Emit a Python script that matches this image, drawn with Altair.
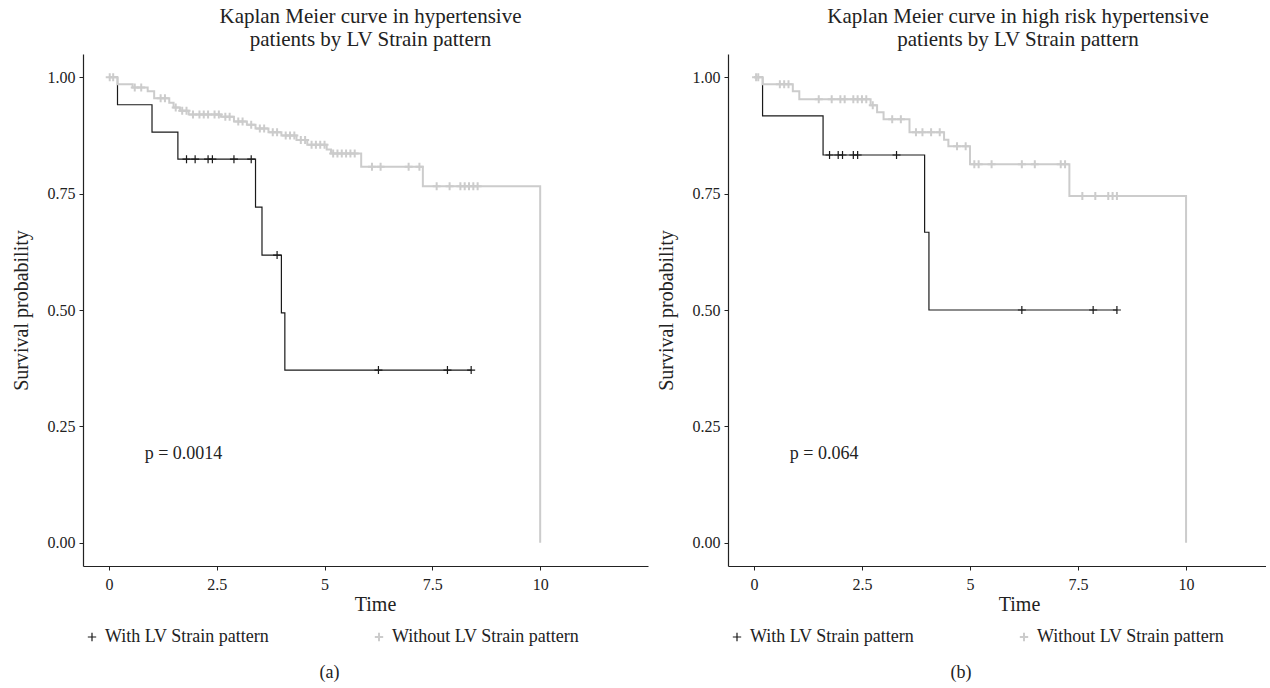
import altair as alt
import pandas as pd

GROUPS = ["With LV Strain pattern", "Without LV Strain pattern"]
COLORS = ["#1a1a1a", "#cccccc"]

# ---- Panel (a): all hypertensive patients ----
a_with_time = [0, 0.2, 1.0, 1.6, 3.4, 3.55, 4.0, 4.08, 8.4]
a_with_surv = [1.0, 0.941, 0.882, 0.824, 0.721, 0.618, 0.494, 0.371, 0.371]
a_with_cens = [1.8, 2.0, 2.3, 2.4, 2.9, 3.3, 3.9, 6.25, 7.85, 8.4]

a_wo_time = [0, 0.2, 0.55, 0.9, 1.05, 1.4, 1.5, 1.65, 1.85, 2.6, 2.9, 3.2, 3.4, 3.7,
             4.0, 4.35, 4.6, 5.05, 5.15, 5.85, 7.28, 10.0]
a_wo_surv = [1.0, 0.985, 0.978, 0.97, 0.955, 0.945, 0.935, 0.928, 0.92, 0.915, 0.905,
             0.898, 0.89, 0.882, 0.875, 0.865, 0.855, 0.845, 0.836, 0.808, 0.766, 0.0]
a_wo_cens = [0.02, 0.1, 0.6, 0.75, 1.2, 1.3, 1.55, 1.7, 1.8, 1.95, 2.1, 2.2, 2.3, 2.45,
             2.55, 2.7, 2.8, 3.0, 3.1, 3.3, 3.5, 3.6, 3.8, 3.9, 4.1, 4.2, 4.3, 4.45,
             4.55, 4.7, 4.8, 4.9, 5.0, 5.2, 5.3, 5.4, 5.5, 5.6, 5.7, 6.1, 6.3, 6.95,
             7.2, 7.6, 7.9, 8.15, 8.25, 8.35, 8.45, 8.55]

# ---- Panel (b): high risk hypertensive patients ----
b_with_time = [0, 0.2, 1.6, 3.95, 4.05, 8.4]
b_with_surv = [1.0, 0.917, 0.833, 0.667, 0.5, 0.5]
b_with_cens = [1.75, 1.95, 2.05, 2.3, 2.4, 3.3, 6.2, 7.85, 8.4]

b_wo_time = [0, 0.2, 0.9, 1.05, 2.7, 2.85, 3.0, 3.6, 4.4, 4.5, 5.0, 7.3, 10.0]
b_wo_surv = [1.0, 0.985, 0.97, 0.953, 0.94, 0.925, 0.91, 0.882, 0.866, 0.852, 0.813,
             0.745, 0.0]
b_wo_cens = [0.05, 0.1, 0.6, 0.7, 0.8, 1.5, 1.8, 2.0, 2.1, 2.3, 2.4, 2.5, 2.6, 2.75,
             3.2, 3.4, 3.75, 3.9, 4.1, 4.3, 4.7, 4.9, 5.1, 5.2, 5.5, 6.2, 6.5, 7.1,
             7.2, 7.6, 7.9, 8.2, 8.3, 8.4]

TITLES = [
    ["Kaplan Meier curve in hypertensive", "patients by LV Strain pattern"],
    ["Kaplan Meier curve in high risk hypertensive", "patients by LV Strain pattern"],
]
P_VALUES = ["p = 0.0014", "p = 0.064"]
CAPTIONS = ["(a)", "(b)"]
X_MAX = [12.5, 11.85]
WIDTHS = [565, 538]
TITLE_DX = [5, 21]
TIME_X = [292, 291]

FONT = "Liberation Serif"
CROSS = "M-1,0L1,0M0,-1L0,1"


def step_value(times, survs, t):
    v = survs[0]
    for tt, s in zip(times, survs):
        if tt <= t:
            v = s
    return v


def curve_frames(with_t, with_s, with_c, wo_t, wo_s, wo_c):
    lines = pd.DataFrame({
        "time": with_t + wo_t,
        "surv": with_s + wo_s,
        "group": [GROUPS[0]] * len(with_t) + [GROUPS[1]] * len(wo_t),
    })
    cens = pd.DataFrame({
        "time": with_c + wo_c,
        "surv": [step_value(with_t, with_s, t) for t in with_c]
        + [step_value(wo_t, wo_s, t) for t in wo_c],
        "group": [GROUPS[0]] * len(with_c) + [GROUPS[1]] * len(wo_c),
    })
    return lines, cens


def panel(lines, cens, i):
    xs = alt.Scale(domain=[-0.6, X_MAX[i]], nice=False, zero=False)
    ys = alt.Scale(domain=[-0.05, 1.05], nice=False, zero=False)
    color = alt.Color(
        "group:N",
        scale=alt.Scale(domain=GROUPS, range=COLORS),
        legend=alt.Legend(
            title=None, orient="bottom", direction="horizontal",
            symbolType=CROSS, symbolSize=70, symbolStrokeWidth=1.5,
            labelFont=FONT, labelFontSize=18, labelColor="#222222", labelLimit=0,
            columnPadding=100, symbolOffset=0, offset=14,
        ),
    )
    xaxis = alt.Axis(values=[0, 2.5, 5, 7.5, 10], title="Time", grid=False,
                     titleX=TIME_X[i], titleAlign="center", labelPadding=6,
                     labelExpr="datum.value == 2.5 || datum.value == 7.5 ? format(datum.value, '.1f') : format(datum.value, 'd')")
    yaxis = alt.Axis(values=[0, 0.25, 0.5, 0.75, 1.0], format=".2f",
                     title="Survival probability", grid=False)
    sw = alt.StrokeWidth("group:N", scale=alt.Scale(domain=GROUPS, range=[1.2, 2.0]), legend=None)
    line = alt.Chart(lines).mark_line(interpolate="step-after").encode(
        x=alt.X("time:Q", scale=xs, axis=xaxis),
        y=alt.Y("surv:Q", scale=ys, axis=yaxis),
        color=color,
        strokeWidth=sw,
        detail="group:N",
    )
    pts = alt.Chart(cens).mark_point(shape=CROSS, filled=False, size=64, opacity=1).encode(
        x=alt.X("time:Q", scale=xs),
        y=alt.Y("surv:Q", scale=ys),
        color=alt.Color("group:N", scale=alt.Scale(domain=GROUPS, range=COLORS), legend=None),
        strokeWidth=sw,
    )
    ptext = alt.Chart(pd.DataFrame({"time": [0.83], "surv": [0.19], "label": [P_VALUES[i]]})).mark_text(
        align="left", baseline="middle", font=FONT, fontSize=18, color="#222222"
    ).encode(x=alt.X("time:Q", scale=xs), y=alt.Y("surv:Q", scale=ys), text="label:N")
    layered = alt.layer(line, pts, ptext).properties(
        width=WIDTHS[i], height=512,
        title=alt.TitleParams(TITLES[i], font=FONT, fontSize=21, fontWeight="normal",
                              color="#222222", anchor="middle", offset=4, lineHeight=23,
                              dx=TITLE_DX[i]),
    )
    return alt.vconcat(layered, title=alt.TitleParams(
        CAPTIONS[i], orient="bottom", font=FONT, fontSize=18, fontWeight="normal",
        color="#222222", anchor="middle", offset=18))


la, ca = curve_frames(a_with_time, a_with_surv, a_with_cens, a_wo_time, a_wo_surv, a_wo_cens)
lb, cb = curve_frames(b_with_time, b_with_surv, b_with_cens, b_wo_time, b_wo_surv, b_wo_cens)

chart = alt.hconcat(
    panel(la, ca, 0),
    panel(lb, cb, 1),
    spacing=8,
).resolve_scale(color="independent", strokeWidth="independent").resolve_legend(
    color="independent"
).properties(
    padding={"left": 11, "top": 6, "right": 0, "bottom": 0}
).configure(font=FONT).configure_axis(
    labelFont=FONT, labelFontSize=16, labelColor="#222222",
    titleFont=FONT, titleFontSize=20, titleFontWeight="normal", titleColor="#222222",
    domainColor="#222222", tickColor="#222222", tickSize=4, labelPadding=4,
    domainWidth=1.2, tickWidth=1,
).configure_axisY(titlePadding=16).configure_axisX(titlePadding=2).configure_view(
    stroke=None
)

chart.save("out.html", embed_options={"renderer": "svg", "actions": False})
